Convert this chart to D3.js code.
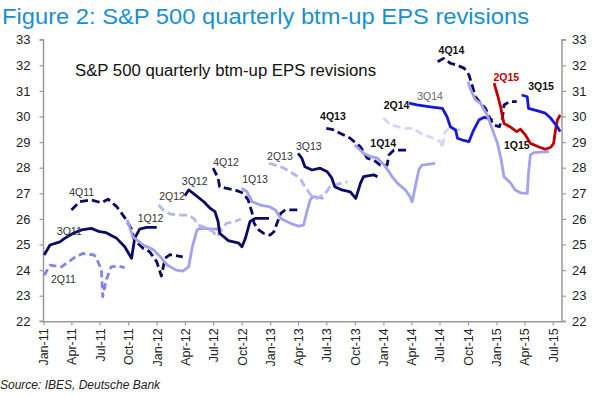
<!DOCTYPE html>
<html lang="en">
<head>
<meta charset="UTF-8">
<title>S&P 500 quarterly btm-up EPS revisions</title>
<style>
  * { margin: 0; padding: 0; box-sizing: border-box; }
  body { width: 600px; height: 397px; background: #fff; overflow: hidden; font-family: Arial, 'Liberation Sans', sans-serif; }
  svg { display: block; }
</style>
</head>
<body>
<svg id="chart" width="600" height="397"></svg>
<script src="https://d3js.org/d3.v7.min.js"></script>
<script>
// EPS estimate paths, [date, value]
const s2Q11 = [["2011-01-03",23.8],["2011-01-22",24.19],["2011-02-28",24.13],["2011-04-07",24.46],["2011-05-07",24.65],["2011-06-10",24.6],["2011-06-19",24.52],["2011-07-07",24.0],["2011-07-11",22.96],["2011-07-22",23.6],["2011-08-07",24.13],["2011-08-28",24.16],["2011-09-20",24.1]];
const s3Q11 = [["2011-01-03",24.59],["2011-01-22",24.98],["2011-02-23",25.1],["2011-03-10",25.24],["2011-04-07",25.44],["2011-05-04",25.57],["2011-06-04",25.63],["2011-07-01",25.5],["2011-07-22",25.46],["2011-08-25",25.24],["2011-09-20",24.91],["2011-10-12",24.46],["2011-10-22",25.24],["2011-11-07",25.6],["2011-11-29",25.67],["2012-01-01",25.67]];
const s4Q11 = [["2011-04-01",26.35],["2011-04-28",26.67],["2011-06-04",26.74],["2011-07-07",26.63],["2011-07-28",26.77],["2011-08-25",26.48],["2011-09-20",26.05],["2011-10-12",25.6],["2011-10-20",25.2],["2011-11-18",24.85],["2011-12-09",24.72],["2012-01-01",24.33],["2012-01-16",23.77],["2012-01-28",24.46],["2012-02-12",24.6],["2012-03-25",24.52]];
const s1Q12 = [["2011-09-28",25.96],["2011-10-16",25.3],["2011-11-19",24.98],["2011-12-22",24.79],["2012-01-13",24.52],["2012-02-04",24.2],["2012-03-04",24.0],["2012-03-25",23.96],["2012-04-13",24.13],["2012-04-25",24.91],["2012-05-10",25.57],["2012-05-19",25.63],["2012-07-13",25.6],["2012-07-28",25.62]];
const s2Q12 = [["2012-01-07",26.55],["2012-01-22",26.35],["2012-02-13",26.19],["2012-03-16",26.15],["2012-04-13",26.15],["2012-05-01",26.0],["2012-05-13",25.76],["2012-06-10",25.65],["2012-07-01",25.5],["2012-07-13",25.3],["2012-08-13",25.83],["2012-09-10",25.9],["2012-09-28",26.0]];
const s3Q12 = [["2012-04-01",26.9],["2012-04-13",27.13],["2012-04-28",27.0],["2012-06-01",26.67],["2012-06-22",26.41],["2012-07-07",26.28],["2012-07-17",25.9],["2012-07-22",25.44],["2012-08-19",25.15],["2012-09-22",25.05],["2012-10-02",24.91],["2012-10-13",25.24],["2012-10-28",25.9],["2012-11-14",26.02],["2012-12-28",26.02]];
const s4Q12 = [["2012-07-01",27.98],["2012-07-17",27.59],["2012-07-22",27.26],["2012-08-10",27.2],["2012-09-10",27.13],["2012-10-07",27.0],["2012-10-22",26.74],["2012-11-04",26.22],["2012-11-10",25.83],["2012-11-25",25.57],["2012-12-10",25.44],["2013-01-01",25.37],["2013-01-13",25.5],["2013-01-23",25.83],["2013-02-04",26.22],["2013-02-19",26.35],["2013-04-02",26.35]];
const s1Q13 = [["2012-10-01",27.2],["2012-10-18",27.06],["2012-11-04",26.67],["2012-12-01",26.54],["2012-12-28",26.48],["2013-01-18",26.35],["2013-02-04",26.02],["2013-03-07",25.83],["2013-04-02",25.72],["2013-04-19",25.76],["2013-04-28",26.22],["2013-05-10",26.74],["2013-05-19",26.87],["2013-06-22",26.8]];
const s2Q13 = [["2012-12-28",28.17],["2013-02-04",28.04],["2013-03-07",27.84],["2013-04-07",27.59],["2013-04-23",27.26],["2013-05-16",26.87],["2013-06-01",26.8],["2013-06-28",27.0],["2013-07-13",27.26],["2013-08-16",27.39],["2013-09-07",27.45]];
const s3Q13 = [["2013-04-01",28.56],["2013-04-13",28.37],["2013-04-23",28.04],["2013-05-16",27.91],["2013-06-11",27.98],["2013-07-04",27.84],["2013-07-19",27.59],["2013-07-28",27.26],["2013-08-20",27.13],["2013-09-16",27.06],["2013-10-04",26.8],["2013-10-19",27.39],["2013-10-29",27.65],["2013-12-01",27.72],["2013-12-13",27.65]];
const s4Q13 = [["2013-07-01",29.54],["2013-07-19",29.5],["2013-08-16",29.34],["2013-09-16",29.15],["2013-10-19",28.82],["2013-11-10",28.37],["2013-12-01",28.3],["2013-12-22",28.1],["2014-01-13",28.1],["2014-01-19",28.5],["2014-02-04",28.69],["2014-03-19",28.69]];
const s1Q14 = [["2013-10-01",28.89],["2013-10-29",28.56],["2013-11-22",28.43],["2013-12-13",28.37],["2014-01-04",28.1],["2014-01-19",27.84],["2014-01-29",27.65],["2014-02-16",27.39],["2014-03-13",27.13],["2014-03-28",26.87],["2014-04-04",26.67],["2014-04-14",27.26],["2014-04-25",27.91],["2014-05-05",28.1],["2014-06-17",28.17]];
const s2Q14 = [["2014-01-01",29.93],["2014-01-25",29.67],["2014-03-07",29.54],["2014-04-08",29.54],["2014-05-01",29.34],["2014-06-01",29.2],["2014-07-04",29.02],["2014-07-10",28.76],["2014-07-19",29.4],["2014-08-01",29.54],["2014-09-07",29.47]];
const s3Q14 = [["2014-03-25",30.52],["2014-04-19",30.45],["2014-06-01",30.38],["2014-07-10",30.32],["2014-07-25",30.0],["2014-08-05",29.6],["2014-08-22",29.47],["2014-08-28",29.15],["2014-09-13",29.08],["2014-10-04",29.02],["2014-10-19",29.47],["2014-11-05",29.86],["2014-11-22",29.97],["2014-12-07",29.93],["2014-12-19",29.85]];
const s4Q14 = [["2014-06-25",32.14],["2014-07-14",32.27],["2014-08-05",32.08],["2014-08-28",32.0],["2014-09-19",31.88],["2014-10-04",31.62],["2014-10-14",31.23],["2014-10-25",30.77],["2014-11-10",30.52],["2014-11-26",30.32],["2014-12-13",29.86],["2014-12-23",29.67],["2015-01-10",29.6],["2015-01-20",29.93],["2015-01-25",30.45],["2015-02-11",30.58],["2015-03-07",30.58]];
const s1Q15 = [["2014-10-01",31.36],["2014-10-10",31.04],["2014-10-25",30.65],["2014-11-10",30.52],["2014-12-02",30.06],["2014-12-23",29.34],["2015-01-04",28.95],["2015-01-16",28.3],["2015-01-25",27.65],["2015-02-16",27.39],["2015-03-02",27.13],["2015-03-19",27.02],["2015-04-10",27.0],["2015-04-14",27.78],["2015-04-20",28.5],["2015-05-01",28.59],["2015-06-19",28.63]];
const s2Q15 = [["2014-12-24",31.3],["2015-01-04",30.84],["2015-01-14",30.38],["2015-01-20",29.99],["2015-01-25",29.73],["2015-02-16",29.58],["2015-03-07",29.41],["2015-03-19",29.5],["2015-04-04",29.28],["2015-04-20",28.95],["2015-05-16",28.82],["2015-06-07",28.72],["2015-06-25",28.8],["2015-07-04",28.95],["2015-07-10",29.47],["2015-07-16",29.86],["2015-07-25",30.06]];
const s3Q15 = [["2015-03-23",30.84],["2015-04-10",30.77],["2015-04-14",30.32],["2015-05-11",30.23],["2015-06-07",30.13],["2015-06-25",29.93],["2015-07-16",29.6],["2015-07-25",29.41]];

// series labels, anchored in data units [text, date, value, bold]
const labels = [
  ["2Q11","2011-01-25",23.5,false],["3Q11","2011-02-13",25.37,false],["4Q11","2011-03-25",26.89,false],
  ["1Q12","2011-11-01",25.86,false],["2Q12","2012-01-09",26.74,false],["3Q12","2012-03-22",27.32,false],
  ["4Q12","2012-07-01",28.08,false],["1Q13","2012-10-03",27.41,false],["2Q13","2012-12-22",28.3,false],
  ["3Q13","2013-03-25",28.69,false],["4Q13","2013-06-11",29.86,true],["1Q14","2013-11-20",28.81,true],
  ["2Q14","2014-01-02",30.29,true],["3Q14","2014-04-20",30.64,false],["4Q14","2014-06-28",32.44,true],
  ["1Q15","2015-01-25",28.73,true],["2Q15","2014-12-22",31.39,true],["3Q15","2015-04-13",31.04,true]
];

const yTicks = [22,23,24,25,26,27,28,29,30,31,32,33];

const navy = '#0b0b66', light = '#a2a2ef', bright = '#1717d4';
const series = [
  { data: s2Q11, color: '#8383ec', dash: '7,4' },
  { data: s3Q11, color: navy, dash: null },
  { data: s4Q11, color: navy, dash: '8,4' },
  { data: s1Q12, color: light, dash: null },
  { data: s2Q12, color: '#b6b6f3', dash: '8,4' },
  { data: s3Q12, color: navy, dash: null },
  { data: s4Q12, color: navy, dash: '8,4' },
  { data: s1Q13, color: light, dash: null },
  { data: s2Q13, color: '#b6b6f3', dash: '8,4' },
  { data: s3Q13, color: navy, dash: null },
  { data: s4Q13, color: navy, dash: '8,4' },
  { data: s1Q14, color: light, dash: null },
  { data: s2Q14, color: '#d6d6f8', dash: '8,4' },
  { data: s3Q14, color: bright, dash: null },
  { data: s4Q14, color: navy, dash: '8,4' },
  { data: s1Q15, color: light, dash: null },
  { data: s2Q15, color: '#c00000', dash: null },
  { data: s3Q15, color: bright, dash: null }
];

const parse = d3.timeParse('%Y-%m-%d');
const svg = d3.select('#chart');
const plotLeft = 43.5, plotRight = 562, plotTop = 39.7, plotBottom = 321.3;

const x = d3.scaleTime()
  .domain([parse('2011-01-01'), parse('2015-07-31')])
  .range([plotLeft, plotRight]);
const y = d3.scaleLinear().domain([22, 33]).range([plotBottom, plotTop]);

// titles
svg.append('text')
  .attr('x', 2).attr('y', 24)
  .attr('font-size', 22.5).attr('fill', '#1a8fd2')
  .attr('textLength', 527).attr('lengthAdjust', 'spacingAndGlyphs')
  .text('Figure 2: S&P 500 quarterly btm-up EPS revisions');

svg.append('text')
  .attr('x', 75).attr('y', 76)
  .attr('font-size', 16).attr('fill', '#111')
  .attr('textLength', 301).attr('lengthAdjust', 'spacingAndGlyphs')
  .text('S&P 500 quarterly btm-up EPS revisions');

// axes
const axisColor = '#9a9a9a';
const yl = svg.append('g').attr('transform', `translate(${plotLeft},0)`)
  .call(d3.axisLeft(y).tickValues(yTicks).tickSize(4).tickPadding(9).tickFormat(d3.format('d')));
const yr = svg.append('g').attr('transform', `translate(${plotRight},0)`)
  .call(d3.axisRight(y).tickValues(yTicks).tickSize(4).tickPadding(6).tickFormat(d3.format('d')));
const xa = svg.append('g').attr('transform', `translate(0,${plotBottom})`)
  .call(d3.axisBottom(x)
    .tickValues(d3.timeMonth.every(3).range(parse('2011-01-01'), parse('2015-07-02')))
    .tickSize(4).tickSizeOuter(0).tickFormat(d3.timeFormat('%b-%y')));

[yl, yr, xa].forEach(g => {
  g.select('.domain').attr('stroke', axisColor).attr('stroke-width', 1.5);
  g.selectAll('.tick line').attr('stroke', axisColor).attr('stroke-width', 1.2);
  g.selectAll('.tick text').attr('fill', '#222').attr('font-size', 13)
    .attr('font-family', "Arial, 'Liberation Sans', sans-serif");
});
yl.select('.domain').attr('d', `M-4,${plotTop}H0V${plotBottom}H-4`);
yr.select('.domain').attr('d', `M4,${plotTop}H0V${plotBottom}H4`);

xa.selectAll('.tick text')
  .attr('font-size', 12.5)
  .attr('text-anchor', 'end')
  .attr('transform', 'rotate(-90)')
  .attr('x', -7).attr('y', 0).attr('dy', '0.35em');

// lines
const line = d3.line()
  .x(d => x(parse(d[0])))
  .y(d => y(d[1]));

svg.append('g').selectAll('path')
  .data(series)
  .join('path')
  .attr('d', d => line(d.data))
  .attr('fill', 'none')
  .attr('stroke', d => d.color)
  .attr('stroke-width', 2.8)
  .attr('stroke-linejoin', 'round')
  .attr('stroke-dasharray', d => d.dash);

// quarter labels
svg.append('g').selectAll('text')
  .data(labels)
  .join('text')
  .attr('x', d => x(parse(d[1])))
  .attr('y', d => y(d[2]))
  .attr('font-size', 10.5)
  .attr('font-weight', d => d[3] ? 'bold' : 'normal')
  .attr('fill', d => d[0] === '2Q15' ? '#c00000' : d[0] === '3Q14' ? '#666' : (d[3] ? '#111' : '#333'))
  .text(d => d[0]);

svg.append('text')
  .attr('x', 0).attr('y', 389)
  .attr('font-size', 12).attr('font-style', 'italic').attr('fill', '#222')
  .text('Source: IBES, Deutsche Bank');
</script>
</body>
</html>
